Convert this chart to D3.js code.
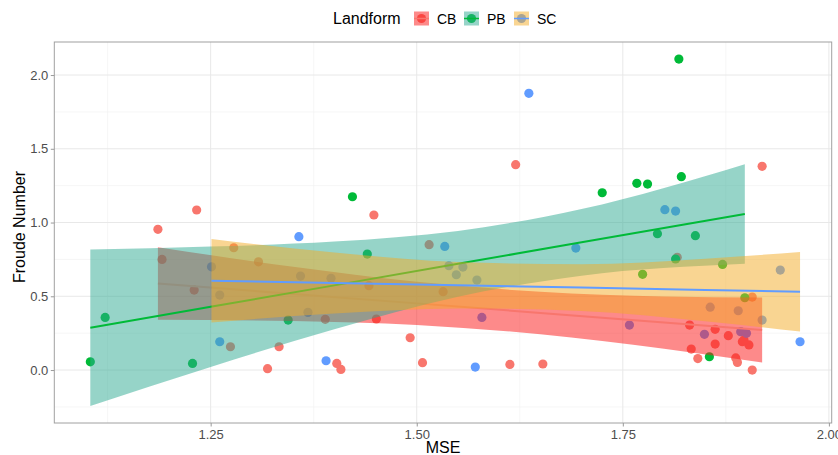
<!DOCTYPE html>
<html>
<head>
<meta charset="utf-8">
<script src="https://cdn.jsdelivr.net/npm/d3@7"></script>
<style>
  body { margin: 0; background: #fff; }
  svg { display: block; font-family: "Liberation Sans", Arial, sans-serif; }
</style>
</head>
<body>
<div id="chart"></div>
<script>
// landform groups, in draw order
const groups = ["CB", "PB", "SC"];

// points (MSE, Froude Number)
const cbMSE = [1.186, 1.233, 1.191, 1.230, 1.278, 1.308, 1.274, 1.319, 1.389, 1.333, 1.403, 1.408,
  1.448, 1.442, 1.451, 1.492, 1.507, 1.515, 1.532, 1.613, 1.653, 1.620, 1.919, 1.816, 1.907,
  1.831, 1.862, 1.878, 1.862, 1.895, 1.903, 1.833, 1.841, 1.887, 1.889, 1.907, 1.897];
const cbFr = [0.954, 1.085, 0.750, 0.542, 0.829, 0.734, 0.158, 0.009, 0.344, 0.158, 0.045, 0.004,
  1.051, 0.572, 0.346, 0.219, 0.050, 0.850, 0.531, 0.038, 0.041, 1.392, 1.381, 0.764, 0.495,
  0.305, 0.276, 0.233, 0.176, 0.192, 0.170, 0.142, 0.078, 0.082, 0.052, 0.000, 0.203];

const pbMSE = [1.104, 1.122, 1.228, 1.344, 1.422, 1.440, 1.818, 1.725, 1.767, 1.780, 1.821,
  1.792, 1.838, 1.814, 1.774, 1.871, 1.898, 1.855];
const pbFr = [0.056, 0.357, 0.045, 0.339, 1.175, 0.786, 2.108, 1.202, 1.266, 1.261, 1.311,
  0.924, 0.911, 0.753, 0.649, 0.716, 0.490, 0.090];

const scMSE = [1.251, 1.261, 1.261, 1.359, 1.368, 1.390, 1.357, 1.396, 1.534, 1.539, 1.548,
  1.556, 1.573, 1.579, 1.571, 1.693, 1.636, 1.801, 1.814, 1.941, 1.965, 1.758, 1.856, 1.890,
  1.919, 1.849, 1.893, 1.900];
const scFr = [0.700, 0.508, 0.192, 0.637, 0.391, 0.063, 0.904, 0.622, 0.838, 0.707, 0.646,
  0.698, 0.610, 0.357, 0.020, 0.827, 1.876, 1.087, 1.078, 0.678, 0.192, 0.305, 0.426, 0.402,
  0.339, 0.242, 0.260, 0.249];

// linear fit confidence bands
const cbBandX = [1.186, 1.35, 1.50, 1.65, 1.80, 1.919];
const cbBandLo = [0.341, 0.332, 0.306, 0.243, 0.145, 0.051];
const cbBandHi = [0.833, 0.700, 0.598, 0.531, 0.499, 0.491];

const pbBandX = [1.104, 1.25, 1.40, 1.55, 1.70, 1.898];
const pbBandLo = [-0.243, 0.021, 0.277, 0.497, 0.640, 0.720];
const pbBandHi = [0.817, 0.837, 0.871, 0.943, 1.092, 1.396];

const scBandX = [1.251, 1.40, 1.55, 1.70, 1.85, 1.965];
const scBandLo = [0.323, 0.383, 0.418, 0.400, 0.331, 0.261];
const scBandHi = [0.889, 0.797, 0.732, 0.718, 0.755, 0.801];

const xTicks = [1.25, 1.50, 1.75, 2.00];
const xMinor = [1.125, 1.375, 1.625, 1.875];
const yTicks = [0.0, 0.5, 1.0, 1.5, 2.0];
const yMinor = [-0.25, 0.25, 0.75, 1.25, 1.75];

const pointColor = { CB: "#F8766D", PB: "#00BA38", SC: "#619CFF" };
const bandColor = { CB: "#fb1515", PB: "#2da991", SC: "#f3ab25" };

const points = {
  CB: cbMSE.map((v, i) => ({ x: v, y: cbFr[i] })),
  PB: pbMSE.map((v, i) => ({ x: v, y: pbFr[i] })),
  SC: scMSE.map((v, i) => ({ x: v, y: scFr[i] }))
};
const bands = {
  CB: cbBandX.map((v, i) => ({ x: v, lo: cbBandLo[i], hi: cbBandHi[i] })),
  PB: pbBandX.map((v, i) => ({ x: v, lo: pbBandLo[i], hi: pbBandHi[i] })),
  SC: scBandX.map((v, i) => ({ x: v, lo: scBandLo[i], hi: scBandHi[i] }))
};

const W = 838, H = 455;
const panel = { left: 54.3, right: 831.7, top: 42, bottom: 423 };

const xScale = d3.scaleLinear().domain([1.0603, 2.0034]).range([panel.left, panel.right]);
const yScale = d3.scaleLinear().domain([-0.359, 2.224]).range([panel.bottom, panel.top]);

const svg = d3.select("#chart").append("svg")
  .attr("width", W)
  .attr("height", H);

svg.append("defs").append("clipPath").attr("id", "panelClip")
  .append("rect")
  .attr("x", panel.left).attr("y", panel.top)
  .attr("width", panel.right - panel.left).attr("height", panel.bottom - panel.top);

// grid
const grid = svg.append("g");
grid.selectAll(".xminor").data(xMinor).enter().append("line")
  .attr("x1", d => xScale(d)).attr("x2", d => xScale(d))
  .attr("y1", panel.top).attr("y2", panel.bottom)
  .attr("stroke", "#f2f2f2").attr("stroke-width", 0.7);
grid.selectAll(".yminor").data(yMinor).enter().append("line")
  .attr("y1", d => yScale(d)).attr("y2", d => yScale(d))
  .attr("x1", panel.left).attr("x2", panel.right)
  .attr("stroke", "#f2f2f2").attr("stroke-width", 0.7);
grid.selectAll(".xmajor").data(xTicks).enter().append("line")
  .attr("x1", d => xScale(d)).attr("x2", d => xScale(d))
  .attr("y1", panel.top).attr("y2", panel.bottom)
  .attr("stroke", "#e8e8e8").attr("stroke-width", 1);
grid.selectAll(".ymajor").data(yTicks).enter().append("line")
  .attr("y1", d => yScale(d)).attr("y2", d => yScale(d))
  .attr("x1", panel.left).attr("x2", panel.right)
  .attr("stroke", "#e8e8e8").attr("stroke-width", 1);

const plot = svg.append("g").attr("clip-path", "url(#panelClip)");

// points first, the smooth bands sit on top of them
groups.forEach(g => {
  plot.append("g").selectAll("circle")
    .data(points[g])
    .enter().append("circle")
    .attr("cx", d => xScale(d.x))
    .attr("cy", d => yScale(d.y))
    .attr("r", 4.6)
    .attr("fill", pointColor[g]);
});

const area = d3.area()
  .x(d => xScale(d.x))
  .y0(d => yScale(d.lo))
  .y1(d => yScale(d.hi))
  .curve(d3.curveMonotoneX);

const fitLine = d3.line()
  .x(d => xScale(d.x))
  .y(d => yScale((d.lo + d.hi) / 2));

groups.forEach(g => {
  plot.append("path")
    .datum(bands[g])
    .attr("d", area)
    .attr("fill", bandColor[g])
    .attr("fill-opacity", 0.5);
  plot.append("path")
    .datum(bands[g])
    .attr("d", fitLine)
    .attr("fill", "none")
    .attr("stroke", pointColor[g])
    .attr("stroke-width", 2);
});

// panel border
svg.append("rect")
  .attr("x", panel.left).attr("y", panel.top)
  .attr("width", panel.right - panel.left).attr("height", panel.bottom - panel.top)
  .attr("fill", "none").attr("stroke", "#a0a0a0").attr("stroke-width", 1);

// axes
const xAxis = svg.append("g")
  .attr("transform", "translate(0," + panel.bottom + ")")
  .call(d3.axisBottom(xScale).tickValues(xTicks).tickFormat(d3.format(".2f")).tickSizeOuter(0).tickSize(3.5).tickPadding(3));
const yAxis = svg.append("g")
  .attr("transform", "translate(" + panel.left + ",0)")
  .call(d3.axisLeft(yScale).tickValues(yTicks).tickFormat(d3.format(".1f")).tickSizeOuter(0).tickSize(3.5).tickPadding(2.5));

[xAxis, yAxis].forEach(a => {
  a.select(".domain").remove();
  a.selectAll(".tick line").attr("stroke", "#9a9a9a");
  a.selectAll(".tick text")
    .attr("fill", "#4d4d4d")
    .style("font-size", "13px")
    .style("font-family", "'Liberation Sans', Arial, sans-serif");
});

svg.append("text")
  .attr("x", (panel.left + panel.right) / 2)
  .attr("y", 453)
  .attr("text-anchor", "middle")
  .style("font-size", "16px")
  .text("MSE");

svg.append("text")
  .attr("transform", "translate(25,227) rotate(-90)")
  .attr("text-anchor", "middle")
  .style("font-size", "16px")
  .text("Froude Number");

// legend
const legend = svg.append("g");
legend.append("text")
  .attr("x", 333).attr("y", 24)
  .style("font-size", "16px")
  .text("Landform");

const keyX = { CB: 414, PB: 464, SC: 514 };
groups.forEach(g => {
  const k = legend.append("g").attr("transform", "translate(" + keyX[g] + ",11.5)");
  k.append("circle").attr("cx", 7.5).attr("cy", 7).attr("r", 4.6).attr("fill", pointColor[g]);
  k.append("rect").attr("width", 15).attr("height", 14)
    .attr("fill", bandColor[g]).attr("fill-opacity", 0.5);
  k.append("line").attr("x1", 0).attr("x2", 15).attr("y1", 7).attr("y2", 7)
    .attr("stroke", pointColor[g]).attr("stroke-width", 1.5);
  legend.append("text")
    .attr("x", keyX[g] + 23).attr("y", 23.5)
    .style("font-size", "14px")
    .text(g);
});
</script>
</body>
</html>
